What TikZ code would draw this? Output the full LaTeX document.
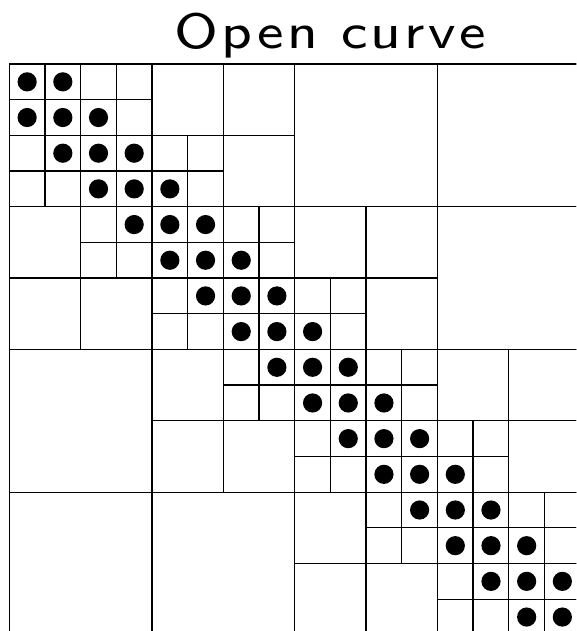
\documentclass[tikz,border=0pt]{standalone}
\usepackage{fontspec}
\newfontfamily\titlefont{lmsans8-regular.otf}[LetterSpace=6]
\usepackage{tikz}
\begin{document}
\begin{tikzpicture}[x=1pt,y=-1pt,
  gridline/.style={line width=1.3pt,black},
  dot/.style={fill=black},
  titletext/.style={font=\titlefont\fontsize{8}{10}\selectfont,inner sep=0pt,anchor=base,xscale=7.0,yscale=6.2,transform shape}]
\useasboundingbox (0,0) rectangle (576,631);
\clip (0,0) rectangle (576,631);
\def\cs{35.68}
\def\ox{9.3}
\def\oy{64}
\node[titletext] (title) at (330,49) {Open curve};
% outer block
\draw[gridline] (\ox,\oy) rectangle ++(16*\cs,16*\cs);
% quadtree blocks: draw a block when its parent block holds a nonzero
\foreach \s in {8,4,2,1} {
  \pgfmathtruncatemacro\n{16/\s-1}
  \foreach \i in {0,...,\n} {
    \foreach \j in {0,...,\n} {
      \pgfmathtruncatemacro\pr{floor(\i/2)*2*\s}
      \pgfmathtruncatemacro\pc{floor(\j/2)*2*\s}
      \pgfmathtruncatemacro\ok{abs(\pr-\pc)<=2*\s ? 1 : 0}
      \ifnum\ok=1
        \draw[gridline] (\ox+\j*\s*\cs,\oy+\i*\s*\cs) rectangle ++(\s*\cs,\s*\cs);
      \fi
    }
  }
}
% nonzeros on the tridiagonal band
\foreach \i in {0,...,15} {
  \foreach \d in {-1,0,1} {
    \pgfmathtruncatemacro\j{\i+\d}
    \ifnum\j>-1 \ifnum\j<16
      \fill[dot] (\ox+\j*\cs+0.5*\cs,\oy+\i*\cs+0.5*\cs) circle (9.6);
    \fi\fi
  }
}
\end{tikzpicture}
\end{document}
